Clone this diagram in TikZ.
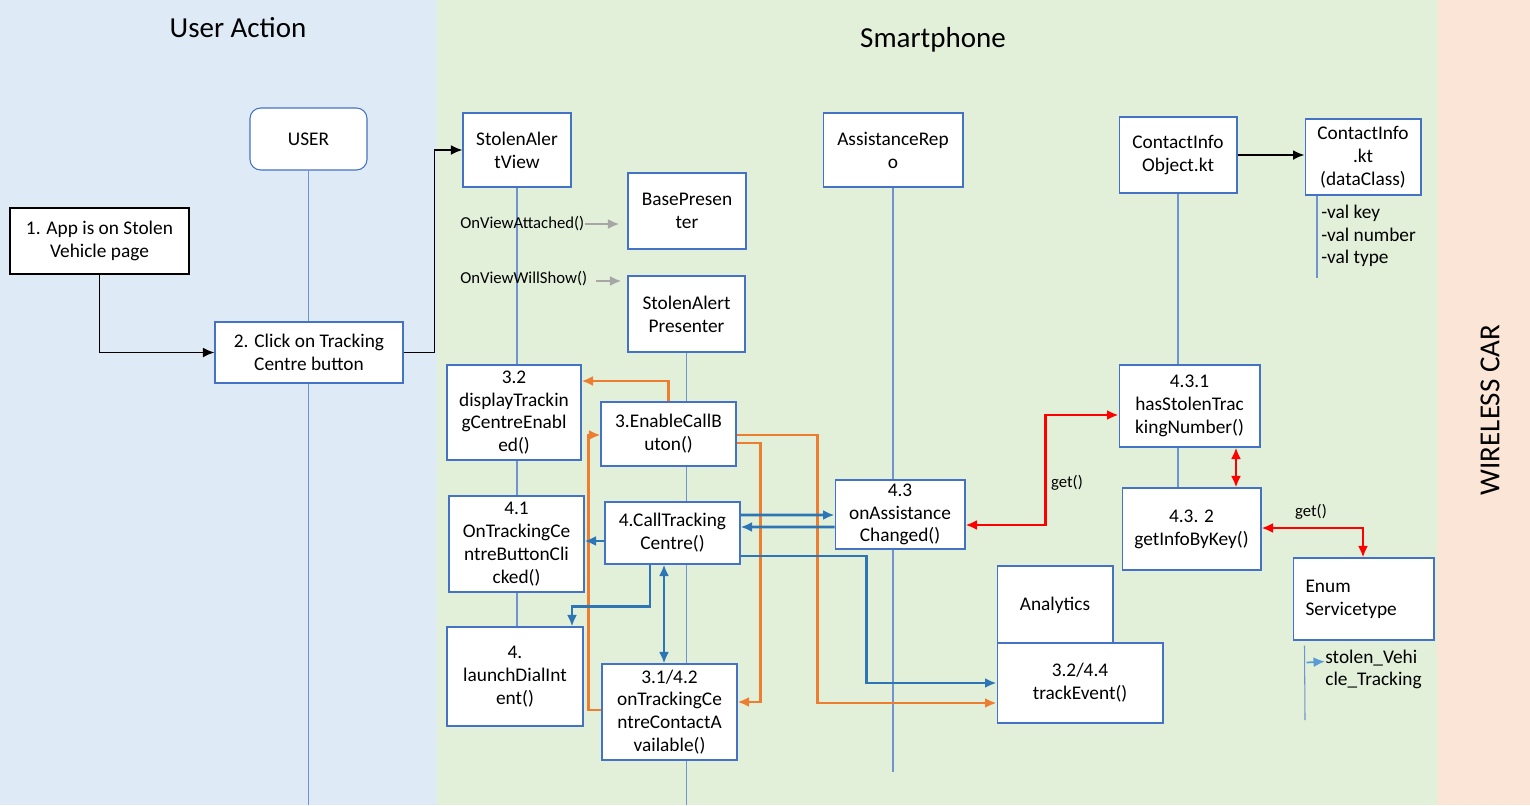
\documentclass[tikz,border=0pt]{standalone}
\usepackage{fontspec}
\setmainfont{Carlito}
\usetikzlibrary{calc, arrows.meta}
\definecolor{panelblue}{HTML}{DEEBF7}
\definecolor{panelgreen}{HTML}{E2F0D9}
\definecolor{panelpeach}{HTML}{FBE5D6}
\definecolor{boxblue}{HTML}{4472C4}
\definecolor{lifeblue}{HTML}{7094D0}
\definecolor{flowblue}{HTML}{2E75B6}
\definecolor{floworange}{HTML}{ED7D31}
\definecolor{flowgray}{HTML}{A6A6A6}
\definecolor{pointblue}{HTML}{5B9BD5}
\pgfdeclarelayer{panels}
\pgfdeclarelayer{lines}
\pgfsetlayers{panels,lines,main}

\begin{document}
\begin{tikzpicture}[x=0.02cm, y=-0.02cm, >={Latex[length=2.3mm, width=2mm]},
  boxnode/.style={rectangle, draw=boxblue, fill=white, semithick, align=center, inner sep=2pt, font=\fontsize{11}{13}\selectfont},
  titlenode/.style={font=\fontsize{16.5}{20}\selectfont},
  smalllabel/.style={inner sep=0pt, font=\fontsize{9.5}{11}\selectfont},
  lifeline/.style={draw=lifeblue, semithick},
  blackflow/.style={line width=1.1pt, ->},
  grayflow/.style={flowgray, line width=1.5pt, ->},
  orangeflow/.style={floworange, line width=1.5pt, ->},
  blueflow/.style={flowblue, line width=1.5pt, ->},
  redflow/.style={red, line width=1.5pt, <->}]
\useasboundingbox (0,0) rectangle (1530,805);
\begin{pgfonlayer}{panels}
\fill[panelblue] (0,0) rectangle (437,805);
\fill[panelgreen] (437,0) rectangle (1437,805);
\fill[panelpeach] (1437,0) rectangle (1530,805);
\end{pgfonlayer}
\node[titlenode] at (238, 28) (userTitle) {User Action};
\node[titlenode] at (933, 40) (phoneTitle) {Smartphone};
\node[titlenode, rotate=90] at (1490, 410) (carTitle) {WIRELESS CAR};
\coordinate (bottom) at (0, 805);
\coordinate (repoEnd) at (894, 772);
\coordinate (valEnd) at (1317, 278);
\coordinate (enumEnd) at (1305, 720);
% user side
\node[boxnode, rounded corners=6pt, minimum width=2.34cm, minimum height=1.24cm] at (308.5, 139) (user) {USER};
\node[boxnode, draw=black, minimum width=3.58cm, minimum height=1.32cm] at (99.5, 241) (app) {1. App is on Stolen\\Vehicle page};
\node[boxnode, minimum width=3.76cm, minimum height=1.22cm] at (309, 352.5) (click) {2. Click on Tracking\\Centre button};
% smartphone
\node[boxnode, minimum width=2.16cm, minimum height=1.48cm] at (517, 150) (view) {StolenAler\\tView};
\node[boxnode, minimum width=2.36cm, minimum height=1.52cm] at (687, 211) (base) {BasePresen\\ter};
\node[boxnode, minimum width=2.34cm, minimum height=1.52cm] at (686.5, 314) (presenter) {StolenAlert\\Presenter};
\node[boxnode, minimum width=2.8cm, minimum height=1.48cm] at (893, 150) (repo) {AssistanceRep\\o};
\node[boxnode, minimum width=2.36cm, minimum height=1.52cm] at (1178, 155) (contactObj) {ContactInfo\\Object.kt};
\node[boxnode, minimum width=2.32cm, minimum height=1.52cm] at (1363, 157) (contactInfo) {ContactInfo\\.kt\\(dataClass)};
\node[smalllabel, anchor=west, align=left, font=\fontsize{11}{12.8}\selectfont] at (1321, 236) (vals) {-val key\\-val number\\-val type};
\node[smalllabel, anchor=west] at (460, 224) (attached) {OnViewAttached()};
\node[smalllabel, anchor=west] at (460, 279) (willShow) {OnViewWillShow()};
\node[boxnode, minimum width=2.68cm, minimum height=1.9cm] at (514, 412.5) (display) {3.2\\displayTrackin\\gCentreEnabl\\ed()};
\node[boxnode, minimum width=2.7cm, minimum height=1.28cm] at (668.5, 434) (enable) {3.EnableCallB\\uton()};
\node[boxnode, minimum width=2.7cm, minimum height=1.92cm] at (516.5, 544) (clicked) {4.1\\OnTrackingCe\\ntreButtonCli\\cked()};
\node[boxnode, minimum width=2.7cm, minimum height=1.24cm] at (672.5, 533) (callTC) {4.CallTracking\\Centre()};
\node[boxnode, minimum width=2.72cm, minimum height=1.98cm] at (515, 676.5) (dial) {4.\\launchDialInt\\ent()};
\node[boxnode, minimum width=2.7cm, minimum height=1.92cm] at (669.5, 712) (available) {3.1/4.2\\onTrackingCe\\ntreContactA\\vailable()};
\node[boxnode, minimum width=2.6cm, minimum height=1.38cm] at (900, 514.5) (assistChg) {4.3\\onAssistance\\Changed()};
\node[boxnode, minimum width=2.32cm, minimum height=1.56cm] at (1055, 605) (analytics) {Analytics};
\node[boxnode, minimum width=3.32cm, minimum height=1.6cm] at (1080, 683) (track) {3.2/4.4\\trackEvent()};
\node[boxnode, minimum width=2.82cm, minimum height=1.64cm] at (1189.5, 406) (hasStolen) {4.3.1\\hasStolenTrac\\kingNumber()};
\node[boxnode, minimum width=2.78cm, minimum height=1.64cm] at (1191.5, 529) (getInfo) {4.3. 2\\getInfoByKey()};
\node[boxnode, align=left, text width=2.32cm, minimum width=2.82cm, minimum height=1.64cm] at (1363.5, 599) (enumST) {Enum\\Servicetype};
\node[smalllabel, anchor=west, align=left, font=\fontsize{11}{13}\selectfont] at (1325, 669.5) (stolen) {stolen\_Vehi\\cle\_Tracking};
\node[smalllabel] at (1067, 483) (getA) {get()};
\node[smalllabel] at (1311, 512) (getB) {get()};
\begin{pgfonlayer}{lines}
\draw[lifeline] (user.south) -- (user.south |- bottom);
\draw[lifeline] (view.south) -- (view.south |- dial.north);
\draw[lifeline] (presenter.south) -- (presenter.south |- bottom);
\draw[lifeline] (repo.south) -- (repo.south |- repoEnd);
\draw[lifeline] (contactObj.south) -- (contactObj.south |- getInfo.north);
\draw[lifeline] (valEnd |- contactInfo.south) -- (valEnd);
\draw[lifeline] ($(enumST.south west)+(12,5)$) -- (enumEnd);
\end{pgfonlayer}
\draw[blackflow] (app.south) |- (click.west);
\draw[blackflow] (click.east) -- ++(31,0) |- (view.west);
\draw[blackflow] (contactObj.east) -- (contactObj.east -| contactInfo.west);
\draw[grayflow] (attached.east) -- ($(base.west)+(-8,13)$);
\draw[grayflow] ($(willShow.east)+(8,2)$) -- ($(presenter.west)+(-6,-33)$);
\draw[orangeflow] (enable.north) |- ($(display.east)+(0,-31.5)$);
\draw[orangeflow] ($(available.west)+(0,-2)$) -- ++(-13,0) |- ($(enable.west)+(0,1)$);
\draw[orangeflow] ($(enable.east)+(0,9)$) -- ++(24,0) |- ($(available.east)+(0,-10)$);
\draw[orangeflow] ($(enable.east)+(0,1)$) -- ++(81,0) |- ($(track.west)+(0,20)$);
\draw[blueflow] ($(callTC.east)+(0,-18)$) -- ($(assistChg.west)+(0,0.5)$);
\draw[blueflow] ($(assistChg.west)+(0,12.5)$) -- ($(callTC.east)+(0,-6)$);
\draw[blueflow] ($(callTC.east)+(0,23)$) -- ++(126,0) |- (track.west);
\draw[blueflow] ($(callTC.west)+(0,8)$) -- ($(clicked.east)+(0,-3)$);
\draw[blueflow] ($(callTC.south)+(-22.5,0)$) -- ++(0,42) -| ($(dial.north)+(57,0)$);
\draw[blueflow, <->] ($(callTC.south)+(-8.5,0)$) -- ($(available.north)+(-5.5,0)$);
\draw[redflow] ($(assistChg.east)+(0,10.5)$) -- ++(80,0) |- ($(hasStolen.west)+(0,9)$);
\draw[redflow] ($(hasStolen.south)+(46.5,0)$) -- ($(getInfo.north)+(44.5,0)$);
\draw[redflow] ($(getInfo.east)+(0,-1)$) -| ($(enumST.north)+(-0.5,0)$);
\draw[pointblue, line width=1pt, ->] ($(enumST.south west)+(14,22)$) -- ($(stolen.west)+(0,-8)$);
\end{tikzpicture}
\end{document}
